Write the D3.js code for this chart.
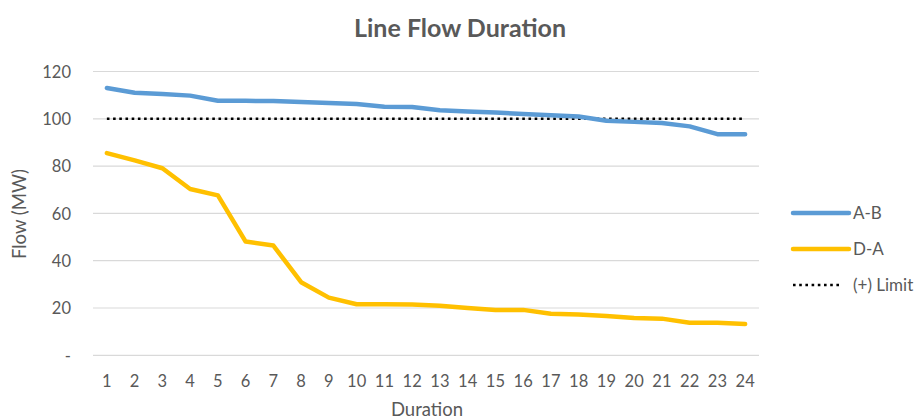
<!DOCTYPE html>
<html><head><meta charset="utf-8">
<script src="https://cdn.jsdelivr.net/npm/d3@7"></script>
<style>body{margin:0;background:#fff}svg{display:block}text{font-family:Lato,"Open Sans",sans-serif;fill:#595959}</style>
</head><body><svg id="c" width="918" height="419"></svg>
<script>
const durations = d3.range(1, 25);
const seriesAB = [113, 111, 110.5, 109.8, 107.6, 107.6, 107.5, 107.1, 106.7, 106.3, 105.1, 105, 103.6, 103.1, 102.7, 102, 101.5, 101, 99.2, 98.7, 98.2, 96.8, 93.5, 93.5];
const seriesDA = [85.5, 82.4, 79.1, 70.3, 67.6, 48.1, 46.4, 30.9, 24.4, 21.6, 21.6, 21.5, 21, 20, 19.2, 19.2, 17.6, 17.3, 16.6, 15.8, 15.5, 13.8, 13.8, 13.2];
const limitValues = durations.map(() => 100);
const yTicks = [0, 20, 40, 60, 80, 100, 120];
const seriesNames = ["A-B", "D-A", "(+) Limit"];
const colors = ["#5b9bd5", "#ffc000", "#000000"];

const svg = d3.select("#c");
const L = 93, R = 759, T = 71.5, B = 355.3;
const x = d3.scaleBand().domain(durations).range([L, R]);
const y = d3.scaleLinear().domain([0, 120]).range([B, T]);

// gridlines
svg.append("g").selectAll("line").data(yTicks).join("line")
  .attr("x1", L).attr("x2", R).attr("y1", d => y(d)).attr("y2", d => y(d))
  .attr("stroke", "#d9d9d9").attr("stroke-width", 1.2);

// y axis labels
const yAxis = d3.axisLeft(y).tickValues(yTicks).tickSize(0).tickPadding(0)
  .tickFormat(d => d === 0 ? "-" : d);
const gy = svg.append("g").attr("transform", `translate(${L - 22},0)`).call(yAxis);
gy.select(".domain").remove();
gy.selectAll("text").style("font-size", "16.5px").attr("fill", "#595959").attr("dy", "0.35em")
  .style("font-family", "Lato, 'Open Sans', sans-serif");

// x axis labels
const xAxis = d3.axisBottom(x).tickSize(0).tickPadding(0);
const gx = svg.append("g").attr("transform", `translate(0,${B + 26})`).call(xAxis);
gx.select(".domain").remove();
gx.selectAll("text").style("font-size", "16.5px").attr("fill", "#595959").attr("dy", "0.35em")
  .style("font-family", "Lato, 'Open Sans', sans-serif");

const cx = d => x(d) + x.bandwidth() / 2;
const line = vals => d3.line().x((v, i) => cx(durations[i])).y(v => y(v))(vals);

// limit
svg.append("path").attr("d", line(limitValues)).attr("fill", "none")
  .attr("stroke", colors[2]).attr("stroke-width", 2.6).attr("stroke-dasharray", "2.6,3.6");
svg.append("path").attr("d", line(seriesAB)).attr("fill", "none")
  .attr("stroke", colors[0]).attr("stroke-width", 4.5).attr("stroke-linejoin", "round").attr("stroke-linecap", "round");
svg.append("path").attr("d", line(seriesDA)).attr("fill", "none")
  .attr("stroke", colors[1]).attr("stroke-width", 4.5).attr("stroke-linejoin", "round").attr("stroke-linecap", "round");

// title
svg.append("text").attr("x", 460).attr("y", 37).attr("text-anchor", "middle")
  .style("font-size", "25px").style("font-weight", "bold").text("Line Flow Duration");
// axis titles
svg.append("text").attr("x", 427).attr("y", 416).attr("text-anchor", "middle")
  .style("font-size", "18.5px").text("Duration");
svg.append("text").attr("transform", "translate(26,214) rotate(-90)").attr("text-anchor", "middle")
  .style("font-size", "18.5px").text("Flow (MW)");

// legend
const ly = [213, 249, 285];
const lg = svg.append("g");
seriesNames.forEach((n, i) => {
  const ln = lg.append("line").attr("x1", 793).attr("x2", 849).attr("y1", ly[i]).attr("y2", ly[i])
    .attr("stroke", colors[i]);
  if (i < 2) ln.attr("stroke-width", 4.5).attr("stroke-linecap", "round");
  else ln.attr("x2", 840).attr("stroke-width", 2.6).attr("stroke-dasharray", "2.6,3.6");
  lg.append("text").attr("x", 853).attr("y", ly[i]).attr("dy", "0.35em")
    .style("font-size", "17px").text(n);
});
</script></body></html>
